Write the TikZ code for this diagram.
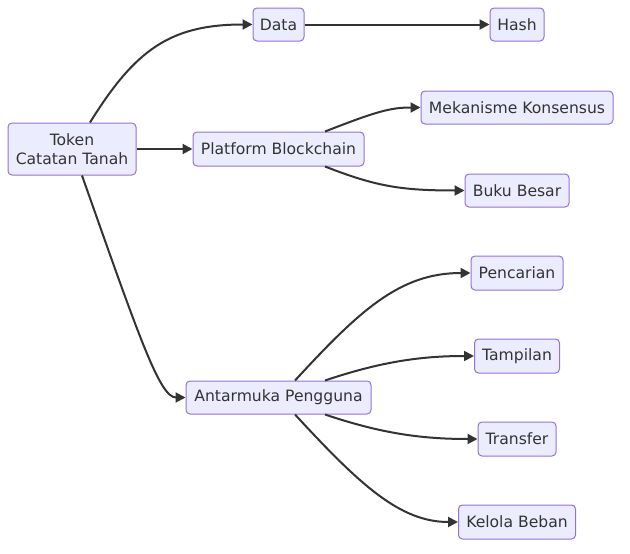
\documentclass[tikz,border=0pt]{standalone}
\usepackage{fontspec}
\setmainfont{DejaVu Sans}
\usetikzlibrary{arrows.meta}
\definecolor{nodefill}{HTML}{ECECFF}
\definecolor{nodeline}{HTML}{9370DB}
\definecolor{edgecol}{HTML}{333333}
\definecolor{txtcol}{HTML}{333333}
\begin{document}
\begin{tikzpicture}[x=1pt,y=-1pt,
  box/.style={draw=nodeline,fill=nodefill,line width=1pt,rounded corners=4pt,
    minimum height=33pt,inner sep=0pt,text=txtcol,
    font=\fontsize{15.6}{19}\selectfont,align=center},
  edge/.style={draw=edgecol,line width=2pt,
    -{Triangle[length=10pt,width=10pt]}}]
\useasboundingbox (0,0) rectangle (630,554);
\node[box,minimum width=128pt,minimum height=52pt] (tok) at (72,149) {Token\\Catatan Tanah};
\node[box,minimum width=51pt] (data) at (278.5,24.5) {Data};
\node[box,minimum width=54pt] (hash) at (517,24.5) {Hash};
\node[box,minimum width=171pt,minimum height=34pt] (plat) at (278.5,149) {Platform Blockchain};
\node[box,minimum width=192pt] (mek) at (517,107.5) {Mekanisme Konsensus};
\node[box,minimum width=104pt] (buku) at (517,190.5) {Buku Besar};
\node[box,minimum width=92pt,minimum height=34pt] (penc) at (517,273) {Pencarian};
\node[box,minimum width=85pt,minimum height=34pt] (tamp) at (517,356) {Tampilan};
\node[box,minimum width=185pt] (ant) at (278.5,397.5) {Antarmuka Pengguna};
\node[box,minimum width=78pt,minimum height=34pt] (trans) at (517,439) {Transfer};
\node[box,minimum width=117pt,minimum height=34pt] (kel) at (517,522) {Kelola Beban};

\draw[edge] ([xshift=18pt]tok.north) .. controls (135,50) and (170,24.5) .. (data.west);
\draw[edge] (data.east) -- (hash.west);
\draw[edge] (tok.east) -- (plat.west);
\draw[edge] ([xshift=46.5pt]plat.north) .. controls (375,112) and (390,107.5) .. (mek.west);
\draw[edge] ([xshift=46.5pt]plat.south) .. controls (375,186) and (400,190.5) .. (buku.west);
\draw[edge] ([xshift=10pt]tok.south) .. controls (140,340) and (160,397.5) .. (ant.west);
\draw[edge] ([xshift=16.5pt]ant.north) .. controls (360,310) and (400,273) .. (penc.west);
\draw[edge] ([xshift=46.5pt]ant.north) .. controls (380,362) and (420,356) .. (tamp.west);
\draw[edge] ([xshift=46.5pt]ant.south) .. controls (380,433) and (420,439) .. (trans.west);
\draw[edge] ([xshift=16.5pt]ant.south) .. controls (360,485) and (400,522) .. (kel.west);
\end{tikzpicture}
\end{document}
